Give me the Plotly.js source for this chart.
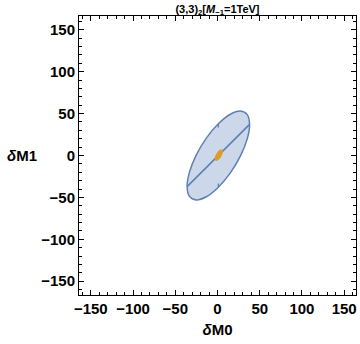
<!DOCTYPE html>
<html>
<head>
<meta charset="utf-8">
<script src="https://cdn.plot.ly/plotly-3.0.1.min.js"></script>
<style>html,body{margin:0;padding:0;background:#fff;}#chart{width:360px;height:344px;}</style>
</head>
<body>
<div id="chart"></div>
<script>
// Outer confidence region boundary (δM0, δM1)
const regionX = [38, 35.2, 27.2, 15.2, 1, -13.2, -25.2, -33.2, -36, -33.2, -25.2, -13.2, 1, 15.2, 27.2, 35.2, 38];
const regionY = [37.1, 48.8, 53.0, 49.2, 37.8, 20.8, 0.5, -19.8, -37.1, -48.8, -53.0, -49.2, -37.8, -20.8, -0.5, 19.8, 37.1];
// Straight chord through the region
const chordX = [-36, 38];
const chordY = [-37.1, 37.1];
// Small marks on the boundary
const markX = [1, 1, null, 1, 1];
const markY = [37.8, 33.5, null, -37.8, -33.5];
// Small inner region
const innerX = [5.7, 4.4, 1.5, -1.4, -2.7, -1.4, 1.5, 4.4, 5.7];
const innerY = [4.9, 6.8, 5.0, 0.6, -3.9, -5.8, -4.0, 0.4, 4.9];
// Axis ticks
const tickVals = [-150, -100, -50, 0, 50, 100, 150];
const tickText = ['\u2212150', '\u2212100', '\u221250', '0', '50', '100', '150'];
// Axis labels
const xLabel = '<i>δ</i>M0';
const yLabel = '<i>δ</i>M1';

const blue = '#5E81B5';
const orange = '#E19C24';

const traces = [
  {x: regionX, y: regionY, type: 'scatter', mode: 'lines', fill: 'toself',
   fillcolor: 'rgb(204,215,234)', line: {color: blue, width: 1.5, shape: 'spline', smoothing: 1},
   hoverinfo: 'skip', showlegend: false},
  {x: chordX, y: chordY, type: 'scatter', mode: 'lines',
   line: {color: blue, width: 1.6}, hoverinfo: 'skip', showlegend: false},
  {x: markX, y: markY, type: 'scatter', mode: 'lines',
   line: {color: blue, width: 1.3}, hoverinfo: 'skip', showlegend: false},
  {x: innerX, y: innerY, type: 'scatter', mode: 'lines', fill: 'toself',
   fillcolor: orange, line: {color: orange, width: 1.2, shape: 'spline', smoothing: 1},
   hoverinfo: 'skip', showlegend: false}
];

const fam = 'Liberation Sans, Arial, sans-serif';
const tickFont = {family: fam, size: 15, color: '#000', weight: 'bold'};
const axisCommon = {
  showgrid: false, zeroline: false, showline: true, linecolor: '#000', linewidth: 1,
  mirror: 'allticks', ticks: 'inside', ticklen: 5, tickwidth: 1, tickcolor: '#000',
  tickmode: 'array', tickvals: tickVals, ticktext: tickText, tickfont: tickFont,
  minor: {dtick: 10, tick0: 0, ticks: 'inside', ticklen: 3, tickwidth: 1, tickcolor: '#000', showgrid: false},
  fixedrange: true
};

const layout = {
  width: 360, height: 344,
  margin: {l: 79, r: 4, t: 16, b: 49, pad: 0},
  paper_bgcolor: '#fff', plot_bgcolor: '#fff',
  title: {
    text: '(3,3)<sub>2</sub>[<i>M</i><sub>\u22121</sub>=1TeV]',
    font: {family: fam, size: 11, color: '#000', weight: 'bold'},
    xref: 'paper', x: 0.5, xanchor: 'center', yref: 'container', y: 0.985, yanchor: 'top'
  },
  xaxis: Object.assign({}, axisCommon, {
    range: [-164, 164],
    title: {text: xLabel, font: {family: fam, size: 15, color: '#000', weight: 'bold'}, standoff: 8}
  }),
  yaxis: Object.assign({}, axisCommon, {
    range: [-166.5, 166.5]
  }),
  annotations: [{
    text: yLabel, xref: 'paper', yref: 'paper', x: -0.205, y: 0.5,
    xanchor: 'center', yanchor: 'middle', showarrow: false,
    font: {family: fam, size: 15, color: '#000', weight: 'bold'}
  }]
};

Plotly.newPlot('chart', traces, layout, {displayModeBar: false, staticPlot: true});
</script>
</body>
</html>
